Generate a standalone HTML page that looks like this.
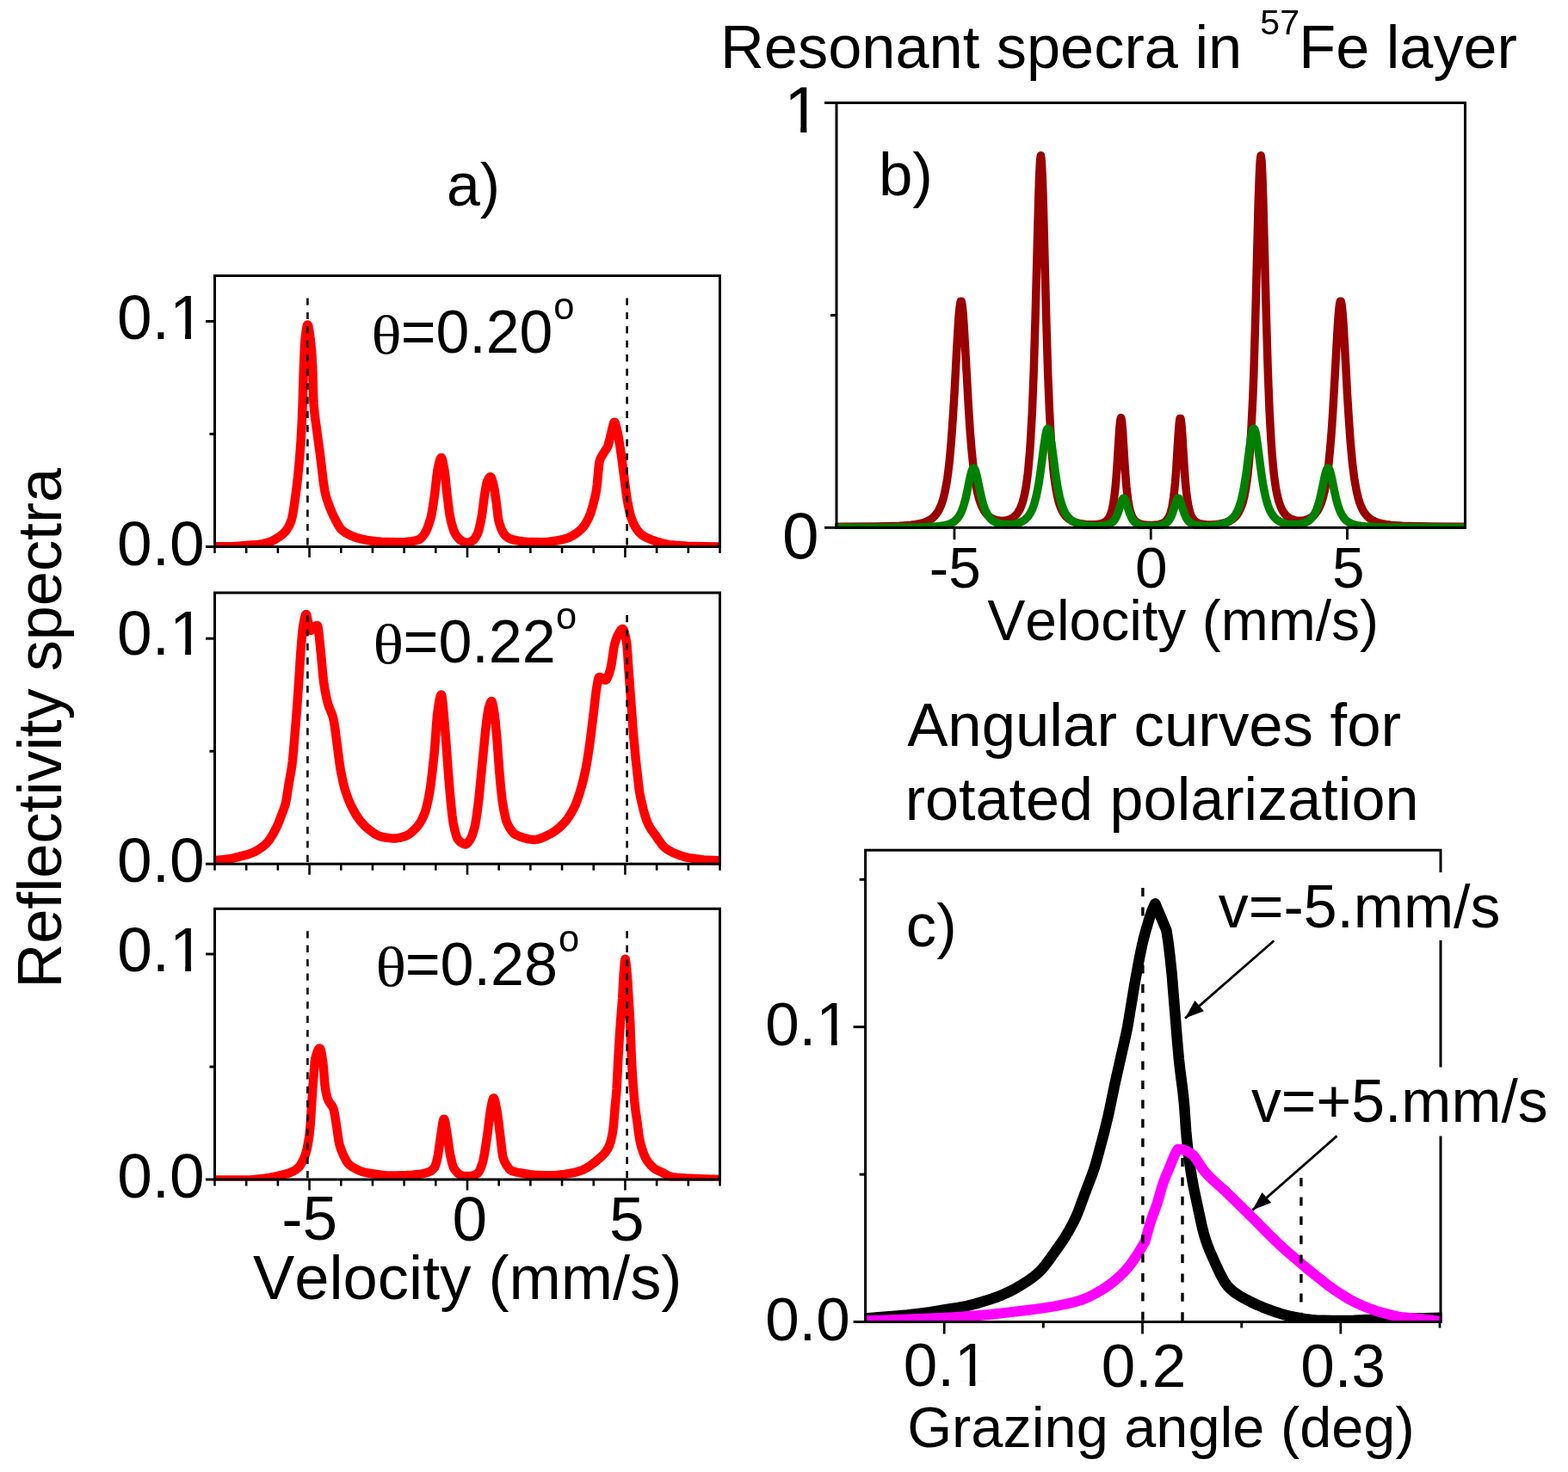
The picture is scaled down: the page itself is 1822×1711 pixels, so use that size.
<!DOCTYPE html>
<html><head><meta charset="utf-8"><title>Resonant spectra figure</title>
<style>html,body{margin:0;padding:0;background:#fff;overflow:hidden} svg{display:block}</style></head>
<body><svg xmlns="http://www.w3.org/2000/svg" width="1822" height="1711" viewBox="0 0 1822 1711">
<rect width="1822" height="1711" fill="#fff"/>
<defs>
<clipPath id="ca0"><rect x="248" y="319.0" width="590" height="318.0"/></clipPath>
<clipPath id="ca1"><rect x="248" y="687.5" width="590" height="318.20000000000005"/></clipPath>
<clipPath id="ca2"><rect x="248" y="1054.8" width="590" height="317.70000000000005"/></clipPath>
<clipPath id="cb"><rect x="970.5" y="118" width="733.5" height="496.8"/></clipPath>
<clipPath id="cc"><rect x="1004.1" y="986.7" width="671.4" height="551.3"/></clipPath>
</defs>
<path d="M249.0 635.3 L270.0 635.2 L273.6 635.0 L292.2 633.6 L300.0 632.9 L305.4 632.1 L310.2 630.9 L314.7 629.4 L318.3 627.7 L324.3 624.1 L327.9 621.5 L330.9 618.6 L333.3 615.6 L335.4 612.1 L337.2 608.3 L338.7 604.3 L339.3 602.1 L340.5 596.0 L341.7 588.4 L343.8 573.6 L345.0 564.0 L346.2 553.0 L347.7 537.4 L349.5 514.2 L350.7 492.6 L351.6 471.0 L352.8 429.1 L354.0 400.9 L354.6 393.7 L355.8 383.7 L356.7 378.9 L357.0 378.0 L357.3 377.6 L357.6 377.5 L357.9 378.0 L358.5 379.9 L359.4 384.9 L361.2 398.6 L362.1 408.3 L362.7 416.9 L363.3 428.3 L364.2 461.7 L364.5 468.6 L365.4 479.4 L366.0 484.5 L371.7 526.3 L375.6 558.7 L376.5 565.2 L377.4 570.6 L378.6 575.9 L379.8 580.1 L381.3 584.6 L383.4 590.2 L385.2 594.6 L387.3 599.3 L392.4 609.3 L394.8 613.3 L396.7 615.5 L398.2 616.8 L400.0 618.2 L402.1 619.6 L404.5 620.9 L408.1 622.7 L411.7 624.1 L415.6 625.4 L420.4 626.6 L425.2 627.6 L428.8 628.3 L436.6 629.2 L443.2 629.8 L452.8 630.1 L460.9 630.3 L465.7 630.2 L470.8 629.9 L478.9 629.1 L482.8 628.4 L484.9 627.9 L487.0 627.1 L488.8 626.0 L490.6 624.1 L492.7 621.4 L494.2 619.1 L495.4 616.8 L496.9 613.2 L498.1 609.9 L499.6 605.1 L500.8 600.8 L501.7 596.6 L502.6 591.5 L505.3 573.1 L507.4 554.0 L508.3 547.1 L509.8 539.9 L511.0 535.2 L511.9 532.9 L512.5 532.1 L512.8 532.0 L513.1 532.1 L513.4 532.6 L514.3 535.4 L516.4 546.5 L517.3 553.6 L519.1 571.2 L521.5 591.3 L522.7 599.4 L524.2 606.4 L526.3 614.1 L527.5 617.5 L528.4 619.5 L530.2 622.4 L532.3 625.2 L534.1 627.0 L535.9 628.4 L539.2 630.0 L541.9 630.7 L543.1 630.8 L544.0 630.7 L546.1 630.1 L549.4 628.3 L550.9 627.0 L552.7 624.5 L554.8 620.4 L555.7 618.2 L556.9 613.9 L558.1 608.6 L559.6 601.0 L560.5 595.1 L562.9 576.1 L564.4 567.3 L565.3 562.7 L566.2 559.5 L567.4 557.0 L568.6 555.1 L569.2 554.5 L569.8 554.3 L570.1 554.4 L570.7 555.0 L571.6 557.2 L572.8 561.4 L574.0 566.3 L574.9 571.5 L576.7 584.0 L578.8 601.6 L579.4 604.8 L580.3 608.3 L582.1 613.8 L583.9 617.8 L585.1 619.8 L586.3 621.5 L587.5 622.9 L588.7 624.0 L591.4 625.6 L594.7 626.9 L597.4 627.7 L603.1 628.7 L607.9 629.4 L612.4 629.8 L627.7 630.2 L631.3 630.2 L634.3 630.1 L642.1 629.1 L646.6 628.5 L651.1 627.7 L654.7 626.8 L658.3 625.8 L661.0 624.8 L665.2 622.7 L669.7 619.9 L673.3 617.1 L676.3 614.2 L678.7 611.3 L681.1 607.6 L683.5 603.0 L685.9 597.5 L687.1 594.1 L688.6 588.7 L691.4 577.9 L692.6 572.1 L693.2 568.4 L693.8 563.3 L695.9 540.9 L696.5 536.8 L697.4 533.9 L698.3 531.9 L701.6 526.3 L704.9 521.3 L705.8 519.6 L706.7 517.5 L707.9 513.2 L712.4 494.1 L713.3 491.4 L713.6 490.9 L713.9 490.7 L714.2 490.8 L714.8 491.7 L715.7 494.4 L718.1 504.9 L719.0 509.8 L722.3 531.8 L728.0 575.9 L729.2 583.2 L731.3 593.8 L732.5 598.7 L733.4 601.7 L735.8 607.9 L737.3 610.9 L738.8 613.5 L740.3 615.7 L742.1 618.0 L744.2 620.2 L746.6 622.2 L749.3 623.9 L752.6 625.5 L758.6 628.0 L763.7 629.8 L769.4 631.4 L775.1 632.7 L778.4 633.2 L785.0 633.8 L798.2 634.7 L818.3 635.2 L837.5 635.4" fill="none" stroke="#ff0000" stroke-width="10.5" stroke-linejoin="round" stroke-linecap="round" clip-path="url(#ca0)"/>
<path d="M249.0 999.9 L256.8 999.4 L266.7 998.3 L271.2 997.4 L286.2 993.7 L290.7 992.3 L295.8 990.1 L299.4 988.1 L304.2 984.9 L308.1 981.7 L311.4 978.4 L313.8 975.1 L317.4 969.2 L320.4 963.6 L323.1 957.9 L329.7 940.7 L331.5 935.1 L332.7 929.7 L335.7 910.5 L338.7 893.5 L339.9 884.6 L341.1 871.9 L345.0 824.4 L347.1 793.9 L349.2 760.4 L351.0 738.3 L351.9 729.9 L353.7 719.5 L354.3 716.8 L354.9 715.0 L355.5 714.0 L355.8 714.0 L356.1 714.4 L356.7 716.3 L359.1 729.3 L359.7 731.7 L360.3 732.9 L360.6 733.0 L360.9 732.9 L361.5 732.4 L363.6 729.3 L364.5 728.5 L366.6 727.5 L368.4 727.0 L368.7 727.0 L369.0 727.2 L369.3 728.1 L369.9 731.3 L370.8 739.0 L373.2 762.7 L375.6 788.5 L376.2 793.2 L377.4 800.9 L379.2 810.3 L381.0 817.7 L382.5 822.3 L384.9 828.0 L386.1 831.2 L387.0 834.1 L387.9 838.0 L389.4 847.4 L394.5 886.7 L395.7 894.8 L397.3 902.8 L398.8 909.7 L400.3 915.7 L401.8 920.8 L404.5 928.5 L407.8 936.2 L409.9 940.4 L412.0 944.2 L414.1 947.7 L416.2 950.8 L418.0 953.3 L420.7 956.5 L423.1 959.2 L425.5 961.5 L429.4 964.8 L433.6 967.8 L436.6 969.8 L439.6 971.4 L442.3 972.3 L449.5 973.8 L455.2 974.4 L459.1 974.5 L462.4 974.1 L466.3 973.3 L471.1 971.9 L473.8 970.6 L476.5 968.9 L479.5 966.3 L483.1 962.8 L485.2 960.4 L487.3 957.6 L489.4 954.1 L491.2 950.6 L493.6 944.9 L495.4 939.0 L497.8 928.5 L499.6 918.5 L500.8 909.9 L502.3 897.5 L504.4 877.7 L505.6 864.2 L507.1 841.8 L508.0 831.2 L509.5 820.4 L510.7 813.3 L511.3 810.6 L511.9 808.7 L512.5 807.6 L512.8 807.5 L513.1 807.8 L513.7 810.5 L514.9 821.2 L517.3 849.1 L522.1 913.5 L523.9 933.1 L525.4 947.6 L526.6 956.3 L528.7 966.1 L530.5 972.3 L531.4 974.5 L532.3 976.0 L535.0 978.6 L536.5 979.8 L537.7 980.5 L539.2 981.1 L540.4 981.4 L541.3 981.4 L542.2 981.0 L543.4 979.9 L544.6 978.4 L546.1 976.3 L547.3 974.1 L548.2 972.1 L549.4 968.9 L551.5 961.8 L552.4 957.5 L553.6 950.2 L556.3 929.7 L564.1 849.6 L565.3 838.8 L566.5 830.2 L567.7 823.5 L569.5 817.6 L570.4 815.6 L571.0 815.0 L571.3 815.0 L571.6 815.3 L571.9 816.0 L572.8 819.5 L574.6 830.4 L575.5 837.6 L577.6 860.8 L580.3 897.0 L582.1 917.0 L583.6 930.5 L585.4 941.3 L587.2 949.9 L588.1 953.3 L589.0 956.0 L590.8 959.8 L592.9 963.5 L595.0 966.4 L597.1 968.7 L599.2 970.2 L604.3 972.5 L609.4 974.2 L614.2 975.4 L618.7 975.9 L621.7 976.0 L624.4 975.6 L627.4 974.8 L630.7 973.5 L634.9 971.6 L641.2 968.4 L644.8 966.0 L648.4 963.3 L652.6 959.4 L656.8 955.1 L659.5 951.7 L662.5 947.2 L665.5 941.9 L668.2 936.5 L670.6 930.5 L673.0 923.5 L675.7 914.6 L678.1 905.4 L680.5 894.5 L682.3 884.4 L684.7 868.7 L686.5 855.4 L689.8 828.2 L692.6 804.1 L693.5 798.2 L694.7 791.6 L695.3 788.9 L695.9 787.3 L696.2 787.0 L696.8 787.1 L698.0 787.5 L700.4 788.7 L702.8 790.3 L703.7 790.5 L704.0 790.4 L704.6 790.0 L705.2 789.2 L705.8 788.1 L707.6 783.5 L709.7 776.5 L710.6 771.5 L713.3 752.8 L713.9 750.0 L715.4 744.7 L716.6 741.2 L717.5 739.0 L719.9 734.6 L721.1 732.7 L722.0 731.7 L722.9 731.1 L723.5 731.0 L724.1 731.5 L724.7 732.5 L725.3 734.1 L726.2 737.3 L728.0 745.9 L728.6 750.8 L730.7 781.6 L736.4 857.9 L738.8 883.2 L742.4 915.6 L743.3 921.6 L744.2 926.5 L747.5 940.8 L749.6 948.3 L751.1 952.7 L752.6 956.5 L754.4 960.3 L756.8 964.4 L762.2 971.7 L767.0 978.7 L769.4 982.0 L771.2 984.0 L773.3 985.8 L776.3 987.9 L779.9 989.9 L785.3 992.4 L791.0 994.6 L795.5 996.0 L800.9 997.1 L808.4 998.3 L817.7 999.4 L828.5 1000.1 L837.5 1000.5" fill="none" stroke="#ff0000" stroke-width="10.5" stroke-linejoin="round" stroke-linecap="round" clip-path="url(#ca1)"/>
<path d="M249.0 1371.4 L290.1 1371.4 L298.2 1370.7 L307.5 1369.7 L312.9 1368.9 L318.0 1368.0 L321.9 1367.2 L332.4 1364.5 L336.6 1363.2 L340.2 1361.7 L343.2 1360.0 L346.2 1357.7 L348.0 1355.8 L349.5 1353.6 L351.3 1350.3 L353.1 1346.5 L354.3 1343.5 L355.5 1339.9 L356.7 1335.4 L358.2 1327.9 L359.7 1317.1 L360.6 1308.1 L363.6 1261.2 L365.7 1234.9 L366.3 1230.8 L367.5 1226.2 L368.4 1223.3 L369.3 1221.0 L369.9 1219.9 L370.8 1218.8 L371.4 1218.5 L371.7 1218.5 L372.0 1218.8 L372.3 1219.4 L373.2 1222.6 L374.1 1227.3 L375.3 1235.0 L375.9 1241.1 L377.4 1260.6 L378.3 1266.8 L379.2 1271.6 L380.4 1276.4 L381.6 1279.4 L382.8 1281.5 L385.2 1284.5 L386.1 1285.9 L387.3 1288.5 L387.9 1290.4 L388.8 1294.7 L389.7 1300.2 L391.5 1311.8 L393.6 1326.5 L394.5 1330.4 L395.7 1334.5 L397.6 1339.4 L399.7 1344.1 L402.1 1348.9 L403.9 1351.7 L406.0 1353.8 L408.7 1355.9 L412.6 1358.2 L417.1 1360.5 L419.5 1361.5 L421.6 1362.1 L425.5 1363.0 L429.7 1363.8 L445.9 1366.1 L449.8 1366.4 L453.4 1366.6 L461.5 1366.5 L472.6 1366.1 L479.2 1365.7 L485.8 1365.0 L490.3 1364.4 L494.2 1363.5 L498.1 1362.3 L500.5 1361.2 L501.7 1360.3 L502.9 1359.3 L505.0 1356.9 L505.9 1355.0 L507.1 1351.0 L508.6 1344.6 L509.2 1341.2 L514.3 1305.8 L515.2 1301.8 L515.5 1301.1 L515.8 1300.7 L516.1 1300.8 L516.7 1302.0 L517.6 1306.1 L520.3 1323.1 L522.1 1336.4 L523.0 1342.0 L525.4 1352.2 L526.6 1356.1 L527.5 1358.1 L529.6 1361.0 L532.0 1363.6 L534.4 1365.5 L536.5 1366.5 L537.7 1366.7 L541.0 1366.9 L547.0 1367.0 L548.5 1366.7 L550.0 1366.3 L553.0 1365.0 L554.8 1363.9 L555.4 1363.4 L556.3 1362.3 L557.2 1360.7 L558.4 1358.1 L559.6 1354.9 L560.8 1351.3 L561.4 1349.1 L563.2 1339.7 L566.2 1319.9 L568.9 1297.6 L569.8 1291.5 L571.3 1283.6 L572.2 1279.5 L573.1 1276.9 L573.4 1276.5 L573.7 1276.4 L574.0 1276.6 L574.3 1277.0 L575.2 1279.8 L576.1 1284.0 L577.9 1293.7 L578.8 1300.2 L581.2 1319.7 L583.3 1337.9 L584.2 1343.8 L584.8 1346.1 L585.7 1348.7 L586.6 1350.9 L587.5 1352.6 L588.7 1354.6 L590.8 1357.6 L592.0 1359.0 L593.2 1360.1 L594.1 1360.7 L595.3 1361.2 L599.2 1362.3 L611.5 1364.5 L616.6 1365.3 L620.8 1365.7 L626.8 1366.0 L634.3 1366.3 L640.3 1366.3 L646.3 1365.9 L655.6 1364.9 L660.7 1364.1 L665.5 1363.3 L670.6 1362.1 L673.9 1361.1 L677.2 1359.8 L681.1 1357.9 L683.5 1356.5 L686.2 1354.7 L691.7 1350.5 L699.2 1344.0 L701.3 1341.9 L703.4 1339.4 L704.9 1337.3 L706.4 1334.9 L707.3 1333.2 L708.2 1331.1 L709.1 1328.5 L710.0 1325.3 L711.5 1318.7 L712.4 1312.5 L713.3 1304.3 L714.5 1288.6 L716.0 1273.3 L716.6 1265.8 L718.4 1228.9 L719.9 1203.9 L721.1 1186.5 L723.2 1160.6 L724.7 1131.9 L725.9 1117.7 L726.2 1115.6 L726.5 1114.7 L726.8 1115.1 L727.4 1118.6 L728.6 1130.7 L729.2 1138.4 L732.2 1187.3 L733.7 1227.0 L734.6 1244.3 L735.8 1262.3 L737.3 1280.0 L738.5 1290.7 L740.6 1305.3 L742.1 1317.5 L743.0 1323.1 L744.2 1328.9 L745.4 1333.5 L747.2 1339.0 L749.0 1343.6 L750.8 1347.2 L753.5 1351.2 L756.2 1354.5 L759.2 1357.3 L761.0 1358.7 L763.1 1359.9 L770.0 1363.1 L775.7 1366.4 L778.1 1367.4 L781.4 1368.1 L785.9 1368.7 L797.0 1369.6 L812.3 1370.3 L837.5 1371.1" fill="none" stroke="#ff0000" stroke-width="10.5" stroke-linejoin="round" stroke-linecap="round" clip-path="url(#ca2)"/>
<line x1="357.4" y1="346.5" x2="357.4" y2="635.5" stroke="#000" stroke-width="2.6" stroke-dasharray="8.2 8.2"/>
<line x1="728.6" y1="346.5" x2="728.6" y2="635.5" stroke="#000" stroke-width="2.6" stroke-dasharray="8.2 8.2"/>
<line x1="357.4" y1="715.0" x2="357.4" y2="1004.2" stroke="#000" stroke-width="2.6" stroke-dasharray="8.2 8.2"/>
<line x1="728.6" y1="715.0" x2="728.6" y2="1004.2" stroke="#000" stroke-width="2.6" stroke-dasharray="8.2 8.2"/>
<line x1="357.4" y1="1082.3" x2="357.4" y2="1371.0" stroke="#000" stroke-width="2.6" stroke-dasharray="8.2 8.2"/>
<line x1="728.6" y1="1082.3" x2="728.6" y2="1371.0" stroke="#000" stroke-width="2.6" stroke-dasharray="8.2 8.2"/>
<rect x="249.5" y="320.5" width="587.0" height="315.0" fill="none" stroke="#000" stroke-width="3"/>
<line x1="249.50" y1="635.50" x2="249.50" y2="643.00" stroke="#000" stroke-width="2.6" />
<line x1="286.19" y1="635.50" x2="286.19" y2="643.00" stroke="#000" stroke-width="2.6" />
<line x1="322.88" y1="635.50" x2="322.88" y2="643.00" stroke="#000" stroke-width="2.6" />
<line x1="359.56" y1="635.50" x2="359.56" y2="648.00" stroke="#000" stroke-width="2.6" />
<line x1="396.25" y1="635.50" x2="396.25" y2="643.00" stroke="#000" stroke-width="2.6" />
<line x1="432.94" y1="635.50" x2="432.94" y2="643.00" stroke="#000" stroke-width="2.6" />
<line x1="469.62" y1="635.50" x2="469.62" y2="643.00" stroke="#000" stroke-width="2.6" />
<line x1="506.31" y1="635.50" x2="506.31" y2="643.00" stroke="#000" stroke-width="2.6" />
<line x1="543.00" y1="635.50" x2="543.00" y2="648.00" stroke="#000" stroke-width="2.6" />
<line x1="579.69" y1="635.50" x2="579.69" y2="643.00" stroke="#000" stroke-width="2.6" />
<line x1="616.38" y1="635.50" x2="616.38" y2="643.00" stroke="#000" stroke-width="2.6" />
<line x1="653.06" y1="635.50" x2="653.06" y2="643.00" stroke="#000" stroke-width="2.6" />
<line x1="689.75" y1="635.50" x2="689.75" y2="643.00" stroke="#000" stroke-width="2.6" />
<line x1="726.44" y1="635.50" x2="726.44" y2="648.00" stroke="#000" stroke-width="2.6" />
<line x1="763.12" y1="635.50" x2="763.12" y2="643.00" stroke="#000" stroke-width="2.6" />
<line x1="799.81" y1="635.50" x2="799.81" y2="643.00" stroke="#000" stroke-width="2.6" />
<line x1="836.50" y1="635.50" x2="836.50" y2="643.00" stroke="#000" stroke-width="2.6" />
<line x1="239.00" y1="635.50" x2="249.50" y2="635.50" stroke="#000" stroke-width="3" />
<line x1="239.00" y1="373.50" x2="249.50" y2="373.50" stroke="#000" stroke-width="3" />
<line x1="243.50" y1="504.50" x2="249.50" y2="504.50" stroke="#000" stroke-width="3" />
<rect x="249.5" y="689.0" width="587.0" height="315.20000000000005" fill="none" stroke="#000" stroke-width="3"/>
<line x1="249.50" y1="1004.20" x2="249.50" y2="1011.70" stroke="#000" stroke-width="2.6" />
<line x1="286.19" y1="1004.20" x2="286.19" y2="1011.70" stroke="#000" stroke-width="2.6" />
<line x1="322.88" y1="1004.20" x2="322.88" y2="1011.70" stroke="#000" stroke-width="2.6" />
<line x1="359.56" y1="1004.20" x2="359.56" y2="1016.70" stroke="#000" stroke-width="2.6" />
<line x1="396.25" y1="1004.20" x2="396.25" y2="1011.70" stroke="#000" stroke-width="2.6" />
<line x1="432.94" y1="1004.20" x2="432.94" y2="1011.70" stroke="#000" stroke-width="2.6" />
<line x1="469.62" y1="1004.20" x2="469.62" y2="1011.70" stroke="#000" stroke-width="2.6" />
<line x1="506.31" y1="1004.20" x2="506.31" y2="1011.70" stroke="#000" stroke-width="2.6" />
<line x1="543.00" y1="1004.20" x2="543.00" y2="1016.70" stroke="#000" stroke-width="2.6" />
<line x1="579.69" y1="1004.20" x2="579.69" y2="1011.70" stroke="#000" stroke-width="2.6" />
<line x1="616.38" y1="1004.20" x2="616.38" y2="1011.70" stroke="#000" stroke-width="2.6" />
<line x1="653.06" y1="1004.20" x2="653.06" y2="1011.70" stroke="#000" stroke-width="2.6" />
<line x1="689.75" y1="1004.20" x2="689.75" y2="1011.70" stroke="#000" stroke-width="2.6" />
<line x1="726.44" y1="1004.20" x2="726.44" y2="1016.70" stroke="#000" stroke-width="2.6" />
<line x1="763.12" y1="1004.20" x2="763.12" y2="1011.70" stroke="#000" stroke-width="2.6" />
<line x1="799.81" y1="1004.20" x2="799.81" y2="1011.70" stroke="#000" stroke-width="2.6" />
<line x1="836.50" y1="1004.20" x2="836.50" y2="1011.70" stroke="#000" stroke-width="2.6" />
<line x1="239.00" y1="1004.20" x2="249.50" y2="1004.20" stroke="#000" stroke-width="3" />
<line x1="239.00" y1="742.20" x2="249.50" y2="742.20" stroke="#000" stroke-width="3" />
<line x1="243.50" y1="873.20" x2="249.50" y2="873.20" stroke="#000" stroke-width="3" />
<rect x="249.5" y="1056.3" width="587.0" height="314.70000000000005" fill="none" stroke="#000" stroke-width="3"/>
<line x1="249.50" y1="1371.00" x2="249.50" y2="1378.50" stroke="#000" stroke-width="2.6" />
<line x1="286.19" y1="1371.00" x2="286.19" y2="1378.50" stroke="#000" stroke-width="2.6" />
<line x1="322.88" y1="1371.00" x2="322.88" y2="1378.50" stroke="#000" stroke-width="2.6" />
<line x1="359.56" y1="1371.00" x2="359.56" y2="1383.50" stroke="#000" stroke-width="2.6" />
<line x1="396.25" y1="1371.00" x2="396.25" y2="1378.50" stroke="#000" stroke-width="2.6" />
<line x1="432.94" y1="1371.00" x2="432.94" y2="1378.50" stroke="#000" stroke-width="2.6" />
<line x1="469.62" y1="1371.00" x2="469.62" y2="1378.50" stroke="#000" stroke-width="2.6" />
<line x1="506.31" y1="1371.00" x2="506.31" y2="1378.50" stroke="#000" stroke-width="2.6" />
<line x1="543.00" y1="1371.00" x2="543.00" y2="1383.50" stroke="#000" stroke-width="2.6" />
<line x1="579.69" y1="1371.00" x2="579.69" y2="1378.50" stroke="#000" stroke-width="2.6" />
<line x1="616.38" y1="1371.00" x2="616.38" y2="1378.50" stroke="#000" stroke-width="2.6" />
<line x1="653.06" y1="1371.00" x2="653.06" y2="1378.50" stroke="#000" stroke-width="2.6" />
<line x1="689.75" y1="1371.00" x2="689.75" y2="1378.50" stroke="#000" stroke-width="2.6" />
<line x1="726.44" y1="1371.00" x2="726.44" y2="1383.50" stroke="#000" stroke-width="2.6" />
<line x1="763.12" y1="1371.00" x2="763.12" y2="1378.50" stroke="#000" stroke-width="2.6" />
<line x1="799.81" y1="1371.00" x2="799.81" y2="1378.50" stroke="#000" stroke-width="2.6" />
<line x1="836.50" y1="1371.00" x2="836.50" y2="1378.50" stroke="#000" stroke-width="2.6" />
<line x1="239.00" y1="1371.00" x2="249.50" y2="1371.00" stroke="#000" stroke-width="3" />
<line x1="239.00" y1="1109.00" x2="249.50" y2="1109.00" stroke="#000" stroke-width="3" />
<line x1="243.50" y1="1240.00" x2="249.50" y2="1240.00" stroke="#000" stroke-width="3" />
<path d="M972.0 612.3 L1011.3 612.1 L1035.9 611.6 L1045.0 611.3 L1052.4 610.8 L1058.7 610.3 L1064.2 609.5 L1068.8 608.7 L1073.4 607.5 L1077.0 606.1 L1080.7 604.2 L1083.4 602.3 L1086.1 599.8 L1088.9 596.3 L1090.7 593.4 L1092.5 589.7 L1094.4 585.0 L1096.2 579.1 L1098.0 571.6 L1099.8 562.0 L1100.8 556.2 L1102.6 542.1 L1103.5 533.7 L1105.3 513.4 L1107.1 488.1 L1109.0 457.8 L1111.7 406.8 L1113.5 375.6 L1114.4 363.5 L1115.4 354.7 L1116.3 350.2 L1117.2 350.2 L1118.1 354.7 L1119.0 363.4 L1119.9 375.5 L1120.8 390.3 L1125.4 473.3 L1127.2 501.1 L1129.1 523.8 L1130.9 541.7 L1132.7 555.7 L1134.5 566.6 L1135.4 571.0 L1137.3 578.5 L1139.1 584.3 L1140.9 588.8 L1142.8 592.4 L1144.6 595.3 L1147.3 598.6 L1150.1 600.9 L1152.8 602.6 L1154.6 603.4 L1156.5 604.1 L1158.3 604.6 L1161.0 605.0 L1162.8 605.2 L1165.6 605.2 L1168.3 604.9 L1170.1 604.6 L1172.0 604.1 L1173.8 603.4 L1175.6 602.5 L1177.5 601.4 L1180.2 599.0 L1182.0 596.9 L1182.9 595.6 L1184.8 592.5 L1186.6 588.5 L1188.4 583.2 L1190.2 576.2 L1192.1 566.7 L1193.9 553.9 L1194.8 545.8 L1196.6 525.1 L1197.5 511.8 L1199.4 478.0 L1201.2 432.0 L1203.0 372.1 L1206.7 231.9 L1207.6 204.8 L1208.5 187.0 L1209.4 180.7 L1210.3 187.0 L1211.2 204.9 L1212.2 232.0 L1215.8 372.3 L1217.6 432.3 L1219.5 478.4 L1221.3 512.2 L1222.2 525.5 L1224.0 546.3 L1224.9 554.4 L1226.8 567.3 L1228.6 576.9 L1230.4 584.0 L1232.2 589.3 L1234.1 593.5 L1235.9 596.7 L1237.7 599.2 L1239.5 601.2 L1242.3 603.5 L1245.0 605.2 L1248.7 606.9 L1252.3 608.0 L1256.0 608.8 L1261.5 609.5 L1266.9 609.8 L1272.4 609.8 L1277.0 609.3 L1280.6 608.4 L1283.4 607.2 L1285.2 605.9 L1286.1 605.1 L1287.9 602.9 L1288.9 601.5 L1289.8 599.6 L1290.7 597.4 L1291.6 594.6 L1292.5 591.1 L1293.4 586.7 L1294.3 581.1 L1295.2 574.1 L1296.2 565.4 L1297.1 554.7 L1298.0 542.0 L1300.7 498.9 L1301.6 489.1 L1302.6 485.5 L1303.5 489.1 L1304.4 498.9 L1307.1 542.1 L1308.0 554.8 L1308.9 565.5 L1309.9 574.2 L1310.8 581.2 L1311.7 586.8 L1312.6 591.2 L1313.5 594.8 L1314.4 597.6 L1315.3 599.9 L1316.2 601.7 L1317.2 603.2 L1318.1 604.4 L1319.9 606.2 L1321.7 607.5 L1323.6 608.4 L1325.4 609.1 L1328.1 609.7 L1331.8 610.2 L1335.4 610.4 L1340.0 610.4 L1343.6 610.1 L1346.4 609.7 L1349.1 608.9 L1351.9 607.8 L1353.7 606.6 L1355.5 604.9 L1356.4 603.8 L1358.3 600.8 L1359.2 598.8 L1360.1 596.3 L1361.0 593.1 L1361.9 589.2 L1362.8 584.2 L1363.7 577.9 L1364.6 570.1 L1365.6 560.4 L1366.5 548.7 L1369.2 505.5 L1370.1 493.4 L1371.0 486.4 L1371.9 486.4 L1372.9 493.3 L1373.8 505.4 L1376.5 548.6 L1377.4 560.3 L1378.3 570.0 L1379.3 577.8 L1380.2 584.1 L1381.1 589.0 L1382.0 592.9 L1382.9 596.1 L1383.8 598.6 L1384.7 600.6 L1385.6 602.2 L1387.5 604.7 L1389.3 606.3 L1391.1 607.5 L1393.0 608.3 L1395.7 609.0 L1399.3 609.6 L1403.0 609.9 L1407.6 609.9 L1413.0 609.5 L1417.6 608.9 L1422.2 608.0 L1425.8 606.9 L1428.6 605.7 L1431.3 604.2 L1434.0 602.1 L1435.9 600.3 L1437.7 598.0 L1439.5 595.2 L1441.3 591.5 L1443.2 586.8 L1444.1 584.0 L1445.9 576.9 L1447.7 567.3 L1449.6 554.4 L1451.4 536.7 L1452.3 525.5 L1454.1 496.6 L1456.0 457.0 L1456.9 432.3 L1458.7 372.3 L1462.3 232.0 L1463.3 204.9 L1464.2 187.0 L1465.1 180.7 L1466.0 187.0 L1466.9 204.8 L1467.8 231.9 L1471.5 372.1 L1473.3 432.0 L1475.1 478.0 L1477.0 511.8 L1477.9 525.1 L1479.7 545.8 L1480.6 553.9 L1482.4 566.7 L1484.3 576.2 L1486.1 583.2 L1487.9 588.5 L1489.7 592.5 L1491.6 595.6 L1492.5 596.9 L1494.3 599.0 L1497.0 601.4 L1498.9 602.5 L1500.7 603.4 L1502.5 604.1 L1504.4 604.6 L1506.2 604.9 L1508.9 605.2 L1511.7 605.2 L1513.5 605.0 L1516.2 604.6 L1518.0 604.1 L1519.9 603.4 L1521.7 602.6 L1524.4 600.9 L1527.2 598.6 L1529.9 595.3 L1531.7 592.4 L1533.6 588.8 L1535.4 584.3 L1537.2 578.5 L1539.1 571.0 L1540.0 566.6 L1541.8 555.7 L1543.6 541.7 L1545.4 523.8 L1547.3 501.1 L1549.1 473.3 L1553.7 390.3 L1554.6 375.5 L1555.5 363.4 L1556.4 354.7 L1557.3 350.2 L1558.2 350.2 L1559.1 354.7 L1560.1 363.5 L1561.0 375.6 L1562.8 406.8 L1565.5 457.8 L1567.4 488.1 L1569.2 513.4 L1571.0 533.7 L1571.9 542.1 L1573.7 556.2 L1574.7 562.0 L1576.5 571.6 L1578.3 579.1 L1580.1 585.0 L1582.0 589.7 L1583.8 593.4 L1585.6 596.3 L1588.4 599.8 L1591.1 602.3 L1593.8 604.2 L1597.5 606.1 L1601.1 607.5 L1605.7 608.7 L1610.3 609.5 L1615.8 610.3 L1622.1 610.8 L1629.5 611.3 L1638.6 611.6 L1663.2 612.1 L1702.5 612.3" fill="none" stroke="#990000" stroke-width="9.5" stroke-linejoin="round" stroke-linecap="round" clip-path="url(#cb)"/>
<path d="M972.0 613.3 L1044.1 613.1 L1063.3 612.9 L1076.1 612.6 L1086.1 612.1 L1093.4 611.3 L1097.1 610.7 L1099.8 610.1 L1102.6 609.3 L1104.4 608.6 L1106.2 607.7 L1108.1 606.6 L1109.9 605.2 L1111.7 603.5 L1113.5 601.2 L1114.4 599.9 L1116.3 596.6 L1117.2 594.6 L1119.0 589.9 L1119.9 587.1 L1121.8 580.4 L1123.6 572.4 L1126.3 559.0 L1128.1 550.8 L1129.1 547.6 L1130.0 545.3 L1130.9 544.1 L1131.8 544.1 L1132.7 545.3 L1133.6 547.5 L1134.5 550.7 L1135.4 554.6 L1140.0 576.4 L1141.8 583.6 L1143.7 589.6 L1144.6 592.1 L1146.4 596.2 L1148.2 599.4 L1150.1 601.9 L1151.0 602.9 L1152.8 604.6 L1154.6 605.9 L1156.5 606.9 L1158.3 607.7 L1160.1 608.3 L1161.9 608.8 L1164.7 609.2 L1167.4 609.5 L1170.1 609.6 L1173.8 609.5 L1176.5 609.3 L1179.3 608.9 L1182.0 608.3 L1184.8 607.4 L1186.6 606.6 L1189.3 605.1 L1191.2 603.8 L1193.9 601.2 L1195.7 598.8 L1197.5 595.9 L1199.4 592.1 L1201.2 587.4 L1202.1 584.5 L1203.9 577.7 L1204.8 573.6 L1206.7 564.0 L1207.6 558.4 L1209.4 545.8 L1213.1 517.7 L1214.9 505.8 L1215.8 501.6 L1216.7 498.9 L1217.6 498.0 L1218.5 498.9 L1219.5 501.6 L1220.4 505.8 L1222.2 517.7 L1226.8 552.5 L1228.6 564.1 L1229.5 569.2 L1231.3 577.8 L1232.2 581.4 L1234.1 587.5 L1235.9 592.3 L1237.7 596.1 L1239.5 599.1 L1240.5 600.3 L1242.3 602.4 L1245.0 604.8 L1247.8 606.6 L1251.4 608.2 L1256.0 609.6 L1260.5 610.4 L1266.0 611.1 L1271.5 611.4 L1277.0 611.4 L1281.5 611.1 L1285.2 610.5 L1287.9 609.7 L1290.7 608.5 L1292.5 607.1 L1294.3 605.3 L1296.2 602.6 L1297.1 600.8 L1298.0 598.8 L1299.8 593.8 L1303.5 582.2 L1304.4 580.2 L1305.3 579.1 L1306.2 579.1 L1307.1 580.2 L1308.0 582.2 L1312.6 596.6 L1314.4 600.9 L1316.2 604.2 L1318.1 606.4 L1319.0 607.3 L1320.8 608.6 L1323.6 610.0 L1326.3 610.8 L1329.9 611.4 L1334.5 611.7 L1340.0 611.7 L1344.6 611.4 L1348.2 610.9 L1350.9 610.1 L1353.7 608.9 L1355.5 607.7 L1357.3 605.9 L1358.3 604.8 L1360.1 601.8 L1361.0 600.0 L1362.8 595.3 L1366.5 583.5 L1367.4 581.1 L1368.3 579.5 L1369.2 579.0 L1370.1 579.5 L1371.0 581.1 L1371.9 583.5 L1375.6 595.2 L1376.5 597.7 L1378.3 601.7 L1380.2 604.7 L1382.0 606.7 L1383.8 608.2 L1385.6 609.2 L1387.5 609.9 L1389.3 610.4 L1393.9 611.1 L1400.3 611.4 L1406.6 611.2 L1413.0 610.6 L1418.5 609.6 L1423.1 608.2 L1426.7 606.6 L1429.5 604.8 L1432.2 602.4 L1434.0 600.3 L1435.9 597.7 L1437.7 594.3 L1439.5 590.1 L1441.3 584.7 L1442.3 581.4 L1444.1 573.7 L1445.0 569.2 L1446.8 558.5 L1448.7 545.9 L1452.3 517.7 L1454.1 505.8 L1455.0 501.6 L1456.0 498.9 L1456.9 498.0 L1457.8 498.9 L1458.7 501.6 L1459.6 505.8 L1461.4 517.7 L1465.1 545.8 L1466.9 558.4 L1467.8 564.0 L1469.7 573.6 L1470.6 577.7 L1472.4 584.5 L1473.3 587.4 L1475.1 592.1 L1477.0 595.9 L1478.8 598.8 L1480.6 601.2 L1483.3 603.8 L1485.2 605.1 L1487.9 606.6 L1489.7 607.4 L1492.5 608.3 L1495.2 608.9 L1498.0 609.3 L1500.7 609.5 L1504.4 609.6 L1507.1 609.5 L1509.8 609.2 L1512.6 608.8 L1514.4 608.3 L1516.2 607.7 L1518.0 606.9 L1519.9 605.9 L1521.7 604.6 L1523.5 602.9 L1524.4 601.9 L1526.3 599.4 L1528.1 596.2 L1529.9 592.1 L1530.8 589.6 L1532.7 583.6 L1534.5 576.4 L1539.1 554.6 L1540.0 550.7 L1540.9 547.5 L1541.8 545.3 L1542.7 544.1 L1543.6 544.1 L1544.5 545.3 L1545.4 547.6 L1546.4 550.8 L1548.2 559.0 L1550.9 572.4 L1552.7 580.4 L1554.6 587.1 L1555.5 589.9 L1557.3 594.6 L1558.2 596.6 L1560.1 599.9 L1561.0 601.2 L1562.8 603.5 L1564.6 605.2 L1566.4 606.6 L1568.3 607.7 L1570.1 608.6 L1571.9 609.3 L1574.7 610.1 L1577.4 610.7 L1581.1 611.3 L1588.4 612.1 L1598.4 612.6 L1611.2 612.9 L1630.4 613.1 L1702.5 613.3" fill="none" stroke="#008000" stroke-width="9.5" stroke-linejoin="round" stroke-linecap="round" clip-path="url(#cb)"/>
<rect x="972.0" y="119.5" width="730.5" height="493.79999999999995" fill="none" stroke="#000" stroke-width="3"/>
<line x1="1108.97" y1="613.30" x2="1108.97" y2="627.30" stroke="#000" stroke-width="2.8" />
<line x1="1337.25" y1="613.30" x2="1337.25" y2="627.30" stroke="#000" stroke-width="2.8" />
<line x1="1565.53" y1="613.30" x2="1565.53" y2="627.30" stroke="#000" stroke-width="2.8" />
<line x1="958.00" y1="613.30" x2="972.00" y2="613.30" stroke="#000" stroke-width="3" />
<line x1="958.00" y1="119.50" x2="972.00" y2="119.50" stroke="#000" stroke-width="3" />
<line x1="965.00" y1="366.40" x2="972.00" y2="366.40" stroke="#000" stroke-width="3" />
<path d="M1005.0 1532.4 L1020.3 1531.3 L1036.8 1529.9 L1053.9 1528.4 L1067.4 1526.9 L1080.9 1525.2 L1100.1 1522.0 L1113.6 1519.9 L1123.2 1518.1 L1132.5 1515.8 L1147.5 1511.3 L1158.6 1507.5 L1164.6 1505.1 L1169.7 1502.8 L1175.5 1500.0 L1181.2 1496.9 L1188.1 1492.8 L1194.1 1489.0 L1198.9 1485.6 L1203.4 1482.1 L1206.4 1479.5 L1208.8 1477.2 L1211.5 1474.3 L1214.2 1471.0 L1219.6 1463.9 L1231.6 1446.9 L1237.3 1438.4 L1242.4 1429.9 L1247.2 1421.0 L1251.1 1412.8 L1253.8 1406.0 L1260.4 1387.9 L1268.8 1366.0 L1271.8 1357.2 L1274.8 1347.1 L1282.6 1317.9 L1287.1 1299.6 L1289.2 1290.1 L1295.8 1258.2 L1308.4 1202.4 L1310.2 1193.4 L1311.7 1184.9 L1318.3 1144.5 L1323.7 1115.1 L1327.3 1097.6 L1328.8 1091.4 L1331.2 1082.4 L1335.4 1068.1 L1337.2 1062.6 L1339.0 1057.7 L1340.8 1053.4 L1342.3 1050.3 L1355.4 1081.4 L1357.5 1095.1 L1359.6 1112.4 L1361.7 1132.5 L1368.0 1210.3 L1369.8 1230.6 L1371.3 1244.0 L1374.3 1267.2 L1375.8 1281.3 L1376.4 1288.4 L1378.2 1315.0 L1379.1 1324.6 L1380.6 1338.5 L1382.1 1350.4 L1384.2 1364.6 L1386.0 1375.0 L1387.8 1384.1 L1396.2 1423.4 L1398.6 1433.2 L1401.0 1441.2 L1403.1 1447.3 L1405.5 1453.5 L1413.4 1471.3 L1416.4 1477.7 L1419.1 1483.1 L1421.8 1488.0 L1424.2 1491.8 L1426.6 1495.0 L1429.0 1497.6 L1432.9 1501.0 L1437.1 1504.1 L1441.0 1506.6 L1445.8 1509.3 L1454.8 1513.9 L1461.4 1517.1 L1467.4 1519.6 L1473.7 1522.0 L1483.0 1525.3 L1490.2 1527.6 L1494.7 1528.8 L1498.9 1529.8 L1509.4 1531.9 L1516.4 1533.1 L1523.3 1534.0 L1529.3 1534.5 L1547.9 1534.9 L1564.7 1535.0 L1573.4 1534.8 L1596.8 1533.7 L1674.0 1531.7" fill="none" stroke="#000" stroke-width="12.5" stroke-linejoin="round" stroke-linecap="round" clip-path="url(#cc)"/>
<path d="M1005.0 1535.0 L1028.4 1534.4 L1054.2 1533.5 L1079.7 1532.5 L1102.2 1531.4 L1121.4 1530.2 L1137.9 1529.0 L1152.0 1527.7 L1168.5 1525.9 L1195.2 1522.7 L1211.1 1520.6 L1225.5 1518.3 L1238.1 1515.9 L1248.3 1513.5 L1253.1 1512.1 L1257.3 1510.8 L1260.6 1509.5 L1264.2 1508.0 L1272.0 1504.0 L1276.8 1501.3 L1282.2 1498.0 L1286.1 1495.4 L1290.0 1492.7 L1293.9 1489.6 L1297.8 1486.4 L1301.7 1482.8 L1305.3 1479.3 L1308.3 1476.1 L1310.7 1473.3 L1313.4 1470.0 L1316.4 1465.9 L1322.4 1456.9 L1329.0 1445.8 L1330.5 1443.2 L1333.5 1432.1 L1336.2 1422.8 L1338.3 1416.4 L1344.4 1399.5 L1345.9 1394.6 L1349.8 1380.7 L1351.9 1374.3 L1354.3 1368.0 L1359.8 1355.0 L1364.3 1343.6 L1366.4 1339.3 L1368.5 1335.8 L1373.0 1336.1 L1374.8 1336.5 L1376.6 1337.1 L1379.0 1338.1 L1381.4 1339.3 L1384.4 1341.1 L1385.9 1342.3 L1387.7 1344.2 L1389.8 1346.9 L1396.1 1356.7 L1398.5 1360.2 L1400.0 1362.0 L1403.6 1365.9 L1410.2 1372.4 L1424.0 1384.8 L1430.3 1390.8 L1457.4 1417.6 L1475.4 1435.7 L1482.9 1443.1 L1490.7 1450.3 L1499.4 1458.0 L1510.2 1467.3 L1520.4 1475.9 L1528.2 1482.2 L1542.3 1493.3 L1548.6 1497.9 L1554.0 1501.7 L1561.2 1506.2 L1567.5 1510.0 L1573.2 1513.1 L1578.3 1515.6 L1585.5 1518.7 L1592.7 1521.5 L1599.7 1523.9 L1606.9 1526.0 L1618.6 1529.1 L1623.4 1530.1 L1627.9 1530.9 L1635.4 1531.7 L1654.0 1533.4 L1674.1 1535.8" fill="none" stroke="#ff00ff" stroke-width="12.0" stroke-linejoin="round" stroke-linecap="round" clip-path="url(#cc)"/>
<line x1="1327.9" y1="1032" x2="1327.9" y2="1536.5" stroke="#000" stroke-width="3.4" stroke-dasharray="10 12.4"/>
<line x1="1374.0" y1="1346" x2="1374.0" y2="1536.5" stroke="#000" stroke-width="3.4" stroke-dasharray="10 12.4"/>
<line x1="1511.9" y1="1369" x2="1511.9" y2="1536.5" stroke="#000" stroke-width="3.4" stroke-dasharray="10 12.4"/>
<rect x="1005.6" y="988.2" width="668.4" height="548.3" fill="none" stroke="#000" stroke-width="3"/>
<line x1="1097.20" y1="1536.50" x2="1097.20" y2="1550.50" stroke="#000" stroke-width="2.8" />
<line x1="1327.52" y1="1536.50" x2="1327.52" y2="1550.50" stroke="#000" stroke-width="2.8" />
<line x1="1557.84" y1="1536.50" x2="1557.84" y2="1550.50" stroke="#000" stroke-width="2.8" />
<line x1="1212.36" y1="1536.50" x2="1212.36" y2="1543.50" stroke="#000" stroke-width="2.8" />
<line x1="1442.68" y1="1536.50" x2="1442.68" y2="1543.50" stroke="#000" stroke-width="2.8" />
<line x1="1673.00" y1="1536.50" x2="1673.00" y2="1543.50" stroke="#000" stroke-width="2.8" />
<line x1="991.60" y1="1536.50" x2="1005.60" y2="1536.50" stroke="#000" stroke-width="3" />
<line x1="998.60" y1="1365.10" x2="1005.60" y2="1365.10" stroke="#000" stroke-width="3" />
<line x1="991.60" y1="1193.70" x2="1005.60" y2="1193.70" stroke="#000" stroke-width="3" />
<line x1="998.60" y1="1022.30" x2="1005.60" y2="1022.30" stroke="#000" stroke-width="3" />
<rect x="1408" y="1014" width="342" height="79" fill="#fff"/>
<rect x="1446" y="1240.5" width="360" height="80" fill="#fff"/>
<line x1="1480.30" y1="1093.50" x2="1377.10" y2="1183.60" stroke="#000" stroke-width="2.8" />
<polygon points="1377.1,1183.6 1388.41,1163.10 1398.93,1175.16" fill="#000"/>
<line x1="1553.50" y1="1320.40" x2="1455.30" y2="1406.60" stroke="#000" stroke-width="2.8" />
<polygon points="1455.3,1406.6 1466.56,1386.07 1477.11,1398.10" fill="#000"/>
<text x="136.05" y="393.58" font-size="73" font-family="'Liberation Sans', Arial, Helvetica, sans-serif" style="font-kerning:none;font-variant-ligatures:none">0.1</text>
<text x="136.05" y="656.53" font-size="73" font-family="'Liberation Sans', Arial, Helvetica, sans-serif" style="font-kerning:none;font-variant-ligatures:none">0.0</text>
<text x="136.05" y="761.48" font-size="73" font-family="'Liberation Sans', Arial, Helvetica, sans-serif" style="font-kerning:none;font-variant-ligatures:none">0.1</text>
<text x="136.05" y="1024.58" font-size="73" font-family="'Liberation Sans', Arial, Helvetica, sans-serif" style="font-kerning:none;font-variant-ligatures:none">0.0</text>
<text x="136.15" y="1129.43" font-size="73" font-family="'Liberation Sans', Arial, Helvetica, sans-serif" style="font-kerning:none;font-variant-ligatures:none">0.1</text>
<text x="136.15" y="1392.43" font-size="73" font-family="'Liberation Sans', Arial, Helvetica, sans-serif" style="font-kerning:none;font-variant-ligatures:none">0.0</text>
<text x="327.16" y="1441.46" font-size="73" font-family="'Liberation Sans', Arial, Helvetica, sans-serif" style="font-kerning:none;font-variant-ligatures:none">-5</text>
<text x="525.45" y="1442.23" font-size="73" font-family="'Liberation Sans', Arial, Helvetica, sans-serif" style="font-kerning:none;font-variant-ligatures:none">0</text>
<text x="708.08" y="1441.86" font-size="73" font-family="'Liberation Sans', Arial, Helvetica, sans-serif" style="font-kerning:none;font-variant-ligatures:none">5</text>
<text x="293.98" y="1510.4" font-size="72.36" font-family="'Liberation Sans', Arial, Helvetica, sans-serif" style="font-kerning:none;font-variant-ligatures:none">Velocity (mm/s)</text>
<text x="465.79" y="410.03" font-size="69.81" font-family="'Liberation Sans', Arial, Helvetica, sans-serif" style="font-kerning:none;font-variant-ligatures:none">=0.20</text>
<text x="643.37" y="371.44" font-size="43.5" font-family="'Liberation Sans', Arial, Helvetica, sans-serif" style="font-kerning:none;font-variant-ligatures:none">o</text>
<text x="468.48" y="770.08" font-size="70.09" font-family="'Liberation Sans', Arial, Helvetica, sans-serif" style="font-kerning:none;font-variant-ligatures:none">=0.22</text>
<text x="645.97" y="731.29" font-size="43.5" font-family="'Liberation Sans', Arial, Helvetica, sans-serif" style="font-kerning:none;font-variant-ligatures:none">o</text>
<text x="470.68" y="1145.13" font-size="70.1" font-family="'Liberation Sans', Arial, Helvetica, sans-serif" style="font-kerning:none;font-variant-ligatures:none">=0.28</text>
<text x="649.07" y="1106.14" font-size="43.5" font-family="'Liberation Sans', Arial, Helvetica, sans-serif" style="font-kerning:none;font-variant-ligatures:none">o</text>
<text x="519.03" y="239.12" font-size="69.84" font-family="'Liberation Sans', Arial, Helvetica, sans-serif" style="font-kerning:none;font-variant-ligatures:none">a)</text>
<text x="837.03" y="78.6" font-size="70.37" font-family="'Liberation Sans', Arial, Helvetica, sans-serif" style="font-kerning:none;font-variant-ligatures:none">Resonant specra in</text>
<text x="1464.35" y="40.2" font-size="41.1" font-family="'Liberation Sans', Arial, Helvetica, sans-serif" style="font-kerning:none;font-variant-ligatures:none">57</text>
<text x="1509.34" y="78.6" font-size="70.21" font-family="'Liberation Sans', Arial, Helvetica, sans-serif" style="font-kerning:none;font-variant-ligatures:none">Fe layer</text>
<text x="911.17" y="154.22" font-size="76.5" font-family="'Liberation Sans', Arial, Helvetica, sans-serif" style="font-kerning:none;font-variant-ligatures:none">1</text>
<text x="908.91" y="648.78" font-size="76.5" font-family="'Liberation Sans', Arial, Helvetica, sans-serif" style="font-kerning:none;font-variant-ligatures:none">0</text>
<text x="1079.8" y="682.84" font-size="67.5" font-family="'Liberation Sans', Arial, Helvetica, sans-serif" style="font-kerning:none;font-variant-ligatures:none">-5</text>
<text x="1318.96" y="682.89" font-size="67.5" font-family="'Liberation Sans', Arial, Helvetica, sans-serif" style="font-kerning:none;font-variant-ligatures:none">0</text>
<text x="1548.0" y="682.84" font-size="67.5" font-family="'Liberation Sans', Arial, Helvetica, sans-serif" style="font-kerning:none;font-variant-ligatures:none">5</text>
<text x="1147.21" y="743.7" font-size="66.03" font-family="'Liberation Sans', Arial, Helvetica, sans-serif" style="font-kerning:none;font-variant-ligatures:none">Velocity (mm/s)</text>
<text x="1020.93" y="227.06" font-size="70.93" font-family="'Liberation Sans', Arial, Helvetica, sans-serif" style="font-kerning:none;font-variant-ligatures:none">b)</text>
<text x="1054.16" y="866.8" font-size="70.74" font-family="'Liberation Sans', Arial, Helvetica, sans-serif" style="font-kerning:none;font-variant-ligatures:none">Angular curves for</text>
<text x="1051.64" y="952.9" font-size="70.18" font-family="'Liberation Sans', Arial, Helvetica, sans-serif" style="font-kerning:none;font-variant-ligatures:none">rotated polarization</text>
<text x="889.13" y="1214.59" font-size="71" font-family="'Liberation Sans', Arial, Helvetica, sans-serif" style="font-kerning:none;font-variant-ligatures:none">0.1</text>
<text x="889.13" y="1557.89" font-size="71" font-family="'Liberation Sans', Arial, Helvetica, sans-serif" style="font-kerning:none;font-variant-ligatures:none">0.0</text>
<text x="1049.83" y="1611.44" font-size="71" font-family="'Liberation Sans', Arial, Helvetica, sans-serif" style="font-kerning:none;font-variant-ligatures:none">0.1</text>
<text x="1279.63" y="1611.69" font-size="71" font-family="'Liberation Sans', Arial, Helvetica, sans-serif" style="font-kerning:none;font-variant-ligatures:none">0.2</text>
<text x="1511.23" y="1611.69" font-size="71" font-family="'Liberation Sans', Arial, Helvetica, sans-serif" style="font-kerning:none;font-variant-ligatures:none">0.3</text>
<text x="1054.25" y="1681.9" font-size="66.7" font-family="'Liberation Sans', Arial, Helvetica, sans-serif" style="font-kerning:none;font-variant-ligatures:none">Grazing angle (deg)</text>
<text x="1052.8" y="1100.29" font-size="70.69" font-family="'Liberation Sans', Arial, Helvetica, sans-serif" style="font-kerning:none;font-variant-ligatures:none">c)</text>
<text x="1415.76" y="1078.0" font-size="69.79" font-family="'Liberation Sans', Arial, Helvetica, sans-serif" style="font-kerning:none;font-variant-ligatures:none">v=-5.mm/s</text>
<text x="1453.96" y="1304.3" font-size="69.71" font-family="'Liberation Sans', Arial, Helvetica, sans-serif" style="font-kerning:none;font-variant-ligatures:none">v=+5.mm/s</text>
<text transform="scale(1.1473 1)" x="376.17" y="410.68" font-size="63.75" font-family="'Liberation Serif', 'Times New Roman', serif" style="font-kerning:none;font-variant-ligatures:none">&#952;</text>
<text transform="scale(1.1432 1)" x="379.24" y="771.27" font-size="64.88" font-family="'Liberation Serif', 'Times New Roman', serif" style="font-kerning:none;font-variant-ligatures:none">&#952;</text>
<text transform="scale(1.1507 1)" x="379.37" y="1146.17" font-size="64.46" font-family="'Liberation Serif', 'Times New Roman', serif" style="font-kerning:none;font-variant-ligatures:none">&#952;</text>
<text transform="translate(71.30 1148.81) rotate(-90)" x="0" y="0" font-size="72.09" font-family="'Liberation Sans', Arial, Helvetica, sans-serif" style="font-kerning:none;font-variant-ligatures:none">Reflectivity spectra</text>
<rect x="201.29" y="387.13" width="13.80" height="7.85" fill="#fff"/>
<rect x="221.94" y="387.13" width="13.43" height="7.85" fill="#fff"/>
<rect x="201.29" y="755.03" width="13.80" height="7.85" fill="#fff"/>
<rect x="221.94" y="755.03" width="13.43" height="7.85" fill="#fff"/>
<rect x="201.39" y="1122.98" width="13.80" height="7.85" fill="#fff"/>
<rect x="222.04" y="1122.98" width="13.43" height="7.85" fill="#fff"/>
<rect x="915.80" y="147.50" width="14.41" height="8.12" fill="#fff"/>
<rect x="937.37" y="147.50" width="14.01" height="8.12" fill="#fff"/>
<rect x="952.55" y="1208.29" width="13.45" height="7.70" fill="#fff"/>
<rect x="972.67" y="1208.29" width="13.09" height="7.70" fill="#fff"/>
<rect x="1113.25" y="1605.14" width="13.45" height="7.70" fill="#fff"/>
<rect x="1133.37" y="1605.14" width="13.09" height="7.70" fill="#fff"/>
</svg></body></html>
